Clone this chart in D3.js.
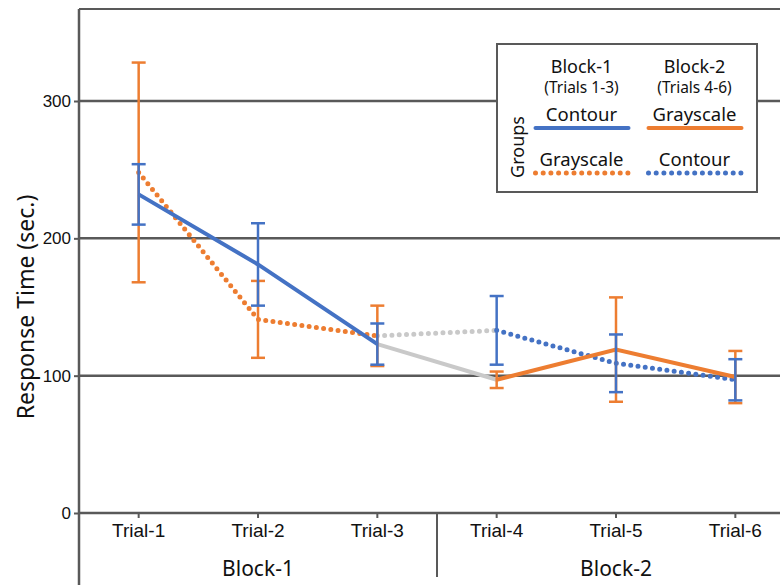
<!DOCTYPE html>
<html>
<head>
<meta charset="utf-8">
<script src="https://cdn.jsdelivr.net/npm/d3@7"></script>
<style>
  body { margin: 0; background: #fff; }
  svg { display: block; font-family: "Noto Sans", "Open Sans", sans-serif; }
</style>
</head>
<body>
<div id="chart"></div>
<script>
// 类别与刻度
const trials = ["Trial-1", "Trial-2", "Trial-3", "Trial-4", "Trial-5", "Trial-6"];
const blocks = ["Block-1", "Block-2"];
const yTicks = [0, 100, 200, 300];
const yMax = 367;

// 组 A: Block-1 Contour -> Block-2 Grayscale
const contourB1 = [232, 181, 123];
const contourB1Err = [22, 30, 15];
const grayB2 = [97, 119, 99];
const grayB2Err = [6, 38, 19];

// 组 B: Block-1 Grayscale -> Block-2 Contour
const grayB1 = [248, 141, 129];
const grayB1Err = [80, 28, 22];
const contourB2 = [133, 109, 97];
const contourB2Err = [25, 21, 15];

const blue = "#4472C4", orange = "#ED7D31", light = "#C9C9C9", axisCol = "#595959", ink = "#111";

const W = 780, H = 585;
const svg = d3.select("#chart").append("svg")
    .attr("width", W)
    .attr("height", H);

const x = d3.scaleBand()
    .domain(trials)
    .range([79, 795])
    .padding(0);

const y = d3.scaleLinear()
    .domain([0, yMax])
    .range([513, 9]);

const cx = t => x(t) + x.bandwidth() / 2;

// 网格线
svg.append("g")
    .selectAll("line")
    .data(yTicks.filter(d => d > 0))
    .enter().append("line")
    .attr("x1", 79).attr("x2", W)
    .attr("y1", d => y(d)).attr("y2", d => y(d))
    .attr("stroke", axisCol)
    .attr("stroke-width", 2.5);

// 顶部边框
svg.append("line")
    .attr("x1", 79).attr("x2", W)
    .attr("y1", y(yMax)).attr("y2", y(yMax))
    .attr("stroke", axisCol).attr("stroke-width", 2);

// 纵轴
const yAxis = svg.append("g")
    .attr("transform", "translate(79,0)")
    .call(d3.axisLeft(y).tickValues(yTicks).tickSize(5).tickPadding(3).tickFormat(d3.format("d")));
yAxis.select(".domain").remove();
yAxis.selectAll(".tick line").attr("stroke", axisCol).attr("stroke-width", 2);
yAxis.selectAll("text").style("font-size", "17px").attr("fill", ink);

svg.append("line")
    .attr("x1", 79).attr("x2", 79)
    .attr("y1", y(yMax)).attr("y2", H)
    .attr("stroke", axisCol).attr("stroke-width", 2.5);

// 横轴
const xAxis = svg.append("g")
    .attr("transform", `translate(0,${y(0)})`)
    .call(d3.axisBottom(x).tickSize(5).tickPadding(6));
xAxis.select(".domain").remove();
xAxis.selectAll(".tick line").attr("stroke", axisCol).attr("stroke-width", 2);
xAxis.selectAll("text").style("font-size", "19px").attr("fill", ink);

svg.append("line")
    .attr("x1", 79).attr("x2", W)
    .attr("y1", y(0)).attr("y2", y(0))
    .attr("stroke", axisCol).attr("stroke-width", 2.5);

// 分组分隔线与分组标签
svg.append("line")
    .attr("x1", x(trials[3])).attr("x2", x(trials[3]))
    .attr("y1", y(0)).attr("y2", 577)
    .attr("stroke", axisCol).attr("stroke-width", 2);

svg.selectAll(".block-label")
    .data(blocks)
    .enter().append("text")
    .attr("class", "block-label")
    .attr("x", (d, i) => (cx(trials[i * 3]) + cx(trials[i * 3 + 2])) / 2)
    .attr("y", 576)
    .attr("text-anchor", "middle")
    .attr("fill", ink)
    .style("font-size", "21px")
    .text(d => d);

// 纵轴标题
svg.append("text")
    .attr("transform", "translate(34,307) rotate(-90)")
    .attr("text-anchor", "middle")
    .attr("fill", ink)
    .style("font-size", "23px")
    .text("Response Time (sec.)");

const line = d3.line().x(d => cx(d.t)).y(d => y(d.v));
const toPts = (vals, off) => vals.map((v, i) => ({t: trials[i + off], v: v}));
const dotted = sel => sel.attr("stroke-dasharray", "0,7.3").attr("stroke-linecap", "round").attr("stroke-width", 5);

// 连接线 (灰色)
svg.append("path")
    .attr("d", line([{t: trials[2], v: contourB1[2]}, {t: trials[3], v: grayB2[0]}]))
    .attr("fill", "none").attr("stroke", light).attr("stroke-width", 4);
svg.append("path")
    .attr("d", line([{t: trials[2], v: grayB1[2]}, {t: trials[3], v: contourB2[0]}]))
    .attr("fill", "none").attr("stroke", light)
    .call(dotted);

// 主线
svg.append("path").attr("d", line(toPts(grayB1, 0)))
    .attr("fill", "none").attr("stroke", orange).call(dotted);
svg.append("path").attr("d", line(toPts(contourB2, 3)))
    .attr("fill", "none").attr("stroke", blue).call(dotted);
svg.append("path").attr("d", line(toPts(grayB2, 3)))
    .attr("fill", "none").attr("stroke", orange).attr("stroke-width", 4);
svg.append("path").attr("d", line(toPts(contourB1, 0)))
    .attr("fill", "none").attr("stroke", blue).attr("stroke-width", 4);

// 误差棒
function errorBars(vals, errs, off, color) {
    const data = vals.map((v, i) => ({t: trials[i + off], v: v, e: errs[i]}));
    const g = svg.append("g").attr("stroke", color).attr("stroke-width", 2.5);
    g.selectAll(".v").data(data).enter().append("line")
        .attr("x1", d => cx(d.t)).attr("x2", d => cx(d.t))
        .attr("y1", d => y(d.v - d.e)).attr("y2", d => y(d.v + d.e));
    [-1, 1].forEach(s => {
        g.selectAll(".c" + s).data(data).enter().append("line")
            .attr("x1", d => cx(d.t) - 7).attr("x2", d => cx(d.t) + 7)
            .attr("y1", d => y(d.v + s * d.e)).attr("y2", d => y(d.v + s * d.e));
    });
}
errorBars(grayB1, grayB1Err, 0, orange);
errorBars(grayB2, grayB2Err, 3, orange);
errorBars(contourB1, contourB1Err, 0, blue);
errorBars(contourB2, contourB2Err, 3, blue);

// 图例
const legendCols = [
    {block: "Block-1", trials: "(Trials 1-3)", x: 581.5},
    {block: "Block-2", trials: "(Trials 4-6)", x: 694.5}
];
const legendRows = [
    [{name: "Contour", color: blue, dot: false}, {name: "Grayscale", color: orange, dot: false}],
    [{name: "Grayscale", color: orange, dot: true}, {name: "Contour", color: blue, dot: true}]
];

const lg = svg.append("g");
lg.append("rect")
    .attr("x", 497).attr("y", 44).attr("width", 260).attr("height", 148)
    .attr("fill", "#fff").attr("stroke", axisCol).attr("stroke-width", 2);

legendCols.forEach((c, ci) => {
    lg.append("text").attr("x", c.x).attr("y", 73)
        .attr("text-anchor", "middle").attr("fill", ink)
        .style("font-size", "18px").text(c.block);
    lg.append("text").attr("x", c.x).attr("y", 93)
        .attr("text-anchor", "middle").attr("fill", ink)
        .style("font-size", "15.5px").text(c.trials);
    legendRows.forEach((row, ri) => {
        const it = row[ci];
        const ty = 121 + ri * 45;
        lg.append("text").attr("x", c.x).attr("y", ty)
            .attr("text-anchor", "middle").attr("fill", ink)
            .style("font-size", "18.5px").text(it.name);
        const ln = lg.append("line")
            .attr("x1", c.x - 46).attr("x2", c.x + 47)
            .attr("y1", ty + 7).attr("y2", ty + 7)
            .attr("stroke", it.color);
        if (it.dot) ln.call(dotted).attr("stroke-dasharray", "0,7.7");
        else ln.attr("stroke-width", 4).attr("stroke-linecap", "round");
    });
});

lg.append("text")
    .attr("transform", "translate(524,147) rotate(-90)")
    .attr("text-anchor", "middle").attr("fill", ink)
    .style("font-size", "18px")
    .text("Groups");
</script>
</body>
</html>
